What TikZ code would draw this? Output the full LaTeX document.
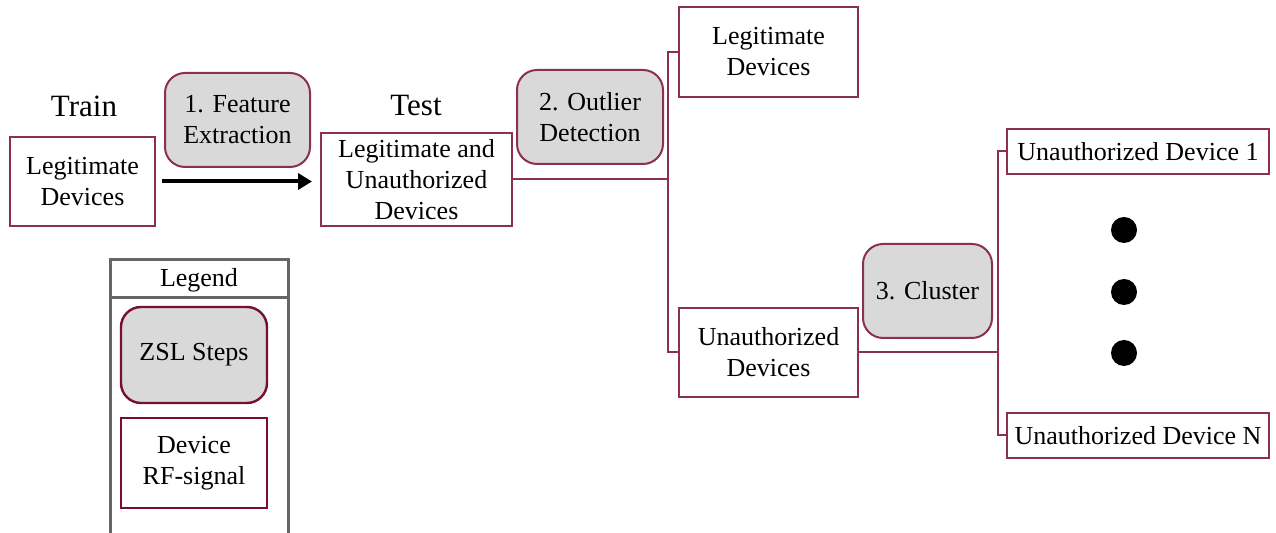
\documentclass[tikz,border=0pt]{standalone}
\usepackage{fontspec}
\setmainfont{Liberation Serif}
\usepackage{xcolor}
\usetikzlibrary{arrows.meta, positioning, calc}

\definecolor{wine}{RGB}{140,48,82}
\definecolor{darkwine}{RGB}{120,14,52}
\definecolor{stepgray}{RGB}{217,217,217}
\definecolor{legendgray}{RGB}{102,102,102}

\tikzset{
    devbox/.style={draw=wine, line width=1pt, fill=white, align=center, inner sep=0pt,
        font=\fontsize{13}{15.5}\selectfont},
    zslstep/.style={draw=wine, line width=1pt, fill=stepgray, rounded corners=10pt, align=center,
        inner sep=0pt, font=\fontsize{13}{15.5}\selectfont},
    branch/.style={draw=wine, line width=1pt},
    phase/.style={font=\fontsize{15.5}{18}\selectfont}
}

\begin{document}
\begin{tikzpicture}[x=0.5pt, y=-0.5pt]
    \useasboundingbox (0,0) rectangle (1276,533); % keep reference margins

    % Train / test
    \node[phase] (train) at (84,106) {Train};
    \node[devbox, minimum width=72.5pt, minimum height=44.5pt] (trainset) at (82.5,181.5) {Legitimate\\Devices};
    \node[zslstep, minimum width=72.5pt, minimum height=47pt] (feature) at (237.5,120) {1. Feature\\Extraction};
    \node[phase] (test) at (416,106) {Test};
    \node[devbox, minimum width=95.5pt, minimum height=46.5pt] (testset) at (416.5,179.5) {Legitimate and\\Unauthorized\\Devices};
    \draw[-{Triangle[length=7pt, width=8pt]}, line width=2pt, shorten <=3pt, shorten >=4pt]
        (trainset.east) -- (trainset.east -| testset.west);

    % Outlier detection
    \node[zslstep, minimum width=73pt, minimum height=47pt] (outlier) at (590,117) {2. Outlier\\Detection};
    \node[devbox, minimum width=89.5pt, minimum height=45pt] (legit) at (768.5,52) {Legitimate\\Devices};
    \node[devbox, minimum width=89.5pt, minimum height=44.5pt] (unauth) at (768.5,352.5) {Unauthorized\\Devices};
    \coordinate (split1) at ([xshift=-5pt]testset.east -| legit.west);
    \draw[branch] (testset.east) -- (split1);
    \draw[branch] (legit.west) -| (split1) |- (unauth.west);

    % Clustering
    \node[zslstep, minimum width=64.5pt, minimum height=47pt] (cluster) at (927.5,291) {3. Cluster};
    \node[devbox, minimum width=131pt, minimum height=22.5pt] (devone) at (1138,151.5) {Unauthorized Device 1};
    \node[devbox, minimum width=131pt, minimum height=22.5pt] (devn) at (1138,435.5) {Unauthorized Device N};
    \coordinate (split2) at ([xshift=-4pt]unauth.east -| devone.west);
    \draw[branch] (unauth.east) -- (split2);
    \draw[branch] (devone.west) -| (split2) |- (devn.west);
    \foreach \y in {230,292,353}
        \fill (1124,\y) circle (6.5pt);

    % Legend
    \draw[legendgray, line width=1.5pt] (110,533) |- (288,260) -- (288,533);
    \draw[legendgray, line width=1.5pt] (110,298) -- (288,298);
    \node[font=\fontsize{13}{15}\selectfont] (legend) at (199,280) {Legend};
    \node[zslstep, draw=darkwine, line width=1.2pt, minimum width=73pt, minimum height=48pt] (keystep) at (194,355) {ZSL Steps};
    \node[devbox, draw=darkwine, line width=1.2pt, minimum width=73pt, minimum height=45pt] (keydev) at (194,463) {Device\\RF-signal};
\end{tikzpicture}
\end{document}
